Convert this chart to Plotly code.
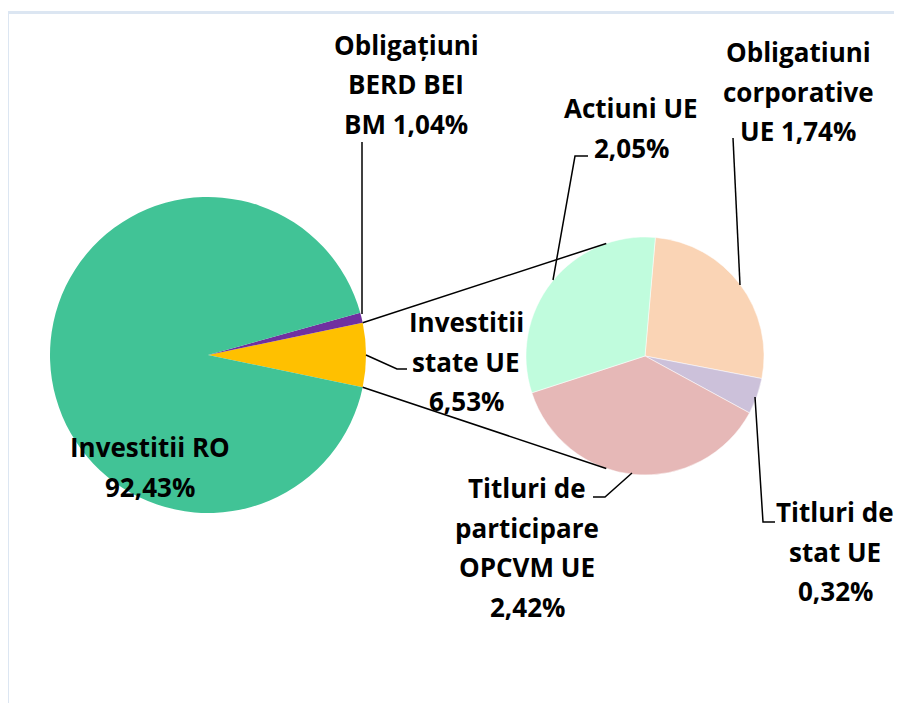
import math
import plotly.graph_objects as go

# ---- data ----
main_labels = ["Investitii state UE", "Obligațiuni BERD BEI BM", "Investitii RO"]
main_values = [6.53, 1.04, 92.43]
main_colors = ["#FFC000", "#7030A0", "#41C396"]

sub_labels = ["Obligatiuni corporative UE", "Titluri de stat UE",
              "Titluri de participare OPCVM UE", "Actiuni UE"]
sub_values = [1.74, 0.32, 2.42, 2.05]
sub_colors = ["#FAD4B5", "#CCC1DA", "#E6B8B7", "#C0FCDD"]

# label texts (one entry per line)
label_texts = {
    "Investitii RO": ["Investitii RO", "92,43%"],
    "Obligațiuni BERD BEI BM": ["Obligațiuni", "BERD BEI", "BM 1,04%"],
    "Investitii state UE": ["Investitii", "state UE", "6,53%"],
    "Actiuni UE": ["Actiuni UE", "2,05%"],
    "Obligatiuni corporative UE": ["Obligatiuni", "corporative", "UE 1,74%"],
    "Titluri de stat UE": ["Titluri de", "stat UE", "0,32%"],
    "Titluri de participare OPCVM UE": ["Titluri de", "participare", "OPCVM UE", "2,42%"],
}

# ---- layout geometry (window pixels) ----
OFF = 8                      # page body margin
W, H = 902 - 2 * OFF, 711 - 2 * OFF
MAIN_C, MAIN_R = (208, 355), 158
SUB_C, SUB_R = (645, 356), 119
LINE_GAP = 39.5
FONT = dict(family="'Open Sans', Lato, sans-serif", size=26, color="#000000", weight="bold")

label_pos = {  # center of first line
    "Investitii RO": (150, 447),
    "Obligațiuni BERD BEI BM": (406, 45),
    "Investitii state UE": (466, 322),
    "Actiuni UE": (631, 108),
    "Obligatiuni corporative UE": (798, 52),
    "Titluri de stat UE": (835, 512),
    "Titluri de participare OPCVM UE": (527, 488),
}

leaders = [
    [(362, 314), (362, 142)],
    [(366, 355), (397, 369), (407, 369)],
    [(553, 280), (575, 156), (588, 156)],
    [(740, 285), (733, 138)],
    [(755, 397), (763, 522), (775, 522)],
    [(632, 473), (605, 497), (593, 497)],
]


def px(x):
    return (x - OFF) / W


def py(y):
    return 1 - (y - OFF) / H


def dom(c, r):
    return dict(x=[px(c[0] - r), px(c[0] + r)], y=[py(c[1] + r), py(c[1] - r)])


main_share = main_values[0] / sum(main_values)
main_rot = 90 - 360 * main_share / 2

fig = go.Figure()
fig.add_trace(go.Pie(
    labels=main_labels, values=main_values, sort=False, direction="counterclockwise",
    rotation=main_rot, textinfo="none", domain=dom(MAIN_C, MAIN_R),
    marker=dict(colors=main_colors, line=dict(width=0)), showlegend=False,
))
fig.add_trace(go.Pie(
    labels=sub_labels, values=sub_values, sort=False, direction="clockwise",
    rotation=5, textinfo="none", domain=dom(SUB_C, SUB_R),
    marker=dict(colors=sub_colors, line=dict(width=0.5, color="#FFFFFF")), showlegend=False,
))

shapes = []
# border
shapes.append(dict(type="rect", xref="paper", yref="paper",
                   x0=px(7.5), x1=px(W + 40), y0=py(H + 40), y1=py(12.5),
                   line=dict(color="#DCE6F2", width=3), fillcolor="rgba(0,0,0,0)"))

# connectors between the slice edges and the secondary pie
half = math.radians(360 * main_share / 2)
edge_top = (MAIN_C[0] + MAIN_R * math.cos(half), MAIN_C[1] - MAIN_R * math.sin(half))
edge_bot = (MAIN_C[0] + MAIN_R * math.cos(half), MAIN_C[1] + MAIN_R * math.sin(half))
a = math.radians(19)
sub_top = (SUB_C[0] - SUB_R * math.sin(a), SUB_C[1] - SUB_R * math.cos(a))
sub_bot = (SUB_C[0] - SUB_R * math.sin(a), SUB_C[1] + SUB_R * math.cos(a))
for p0, p1 in [(edge_top, sub_top), (edge_bot, sub_bot)]:
    shapes.append(dict(type="line", xref="paper", yref="paper",
                       x0=px(p0[0]), y0=py(p0[1]), x1=px(p1[0]), y1=py(p1[1]),
                       line=dict(color="#000000", width=1.5)))

for pts in leaders:
    path = "M " + " L ".join(f"{px(x)},{py(y)}" for x, y in pts)
    shapes.append(dict(type="path", xref="paper", yref="paper", path=path,
                       line=dict(color="#000000", width=1.5)))

annotations = []
for key, lines in label_texts.items():
    cx, cy = label_pos[key]
    for i, t in enumerate(lines):
        annotations.append(dict(text=t, x=px(cx), y=py(cy + i * LINE_GAP), xref="paper", yref="paper",
                                xanchor="center", yanchor="middle", showarrow=False, font=FONT))

fig.update_layout(
    width=W, height=H, margin=dict(l=0, r=0, t=0, b=0),
    paper_bgcolor="#FFFFFF", plot_bgcolor="#FFFFFF",
    shapes=shapes, annotations=annotations, showlegend=False,
)

fig.write_html("out.html")
